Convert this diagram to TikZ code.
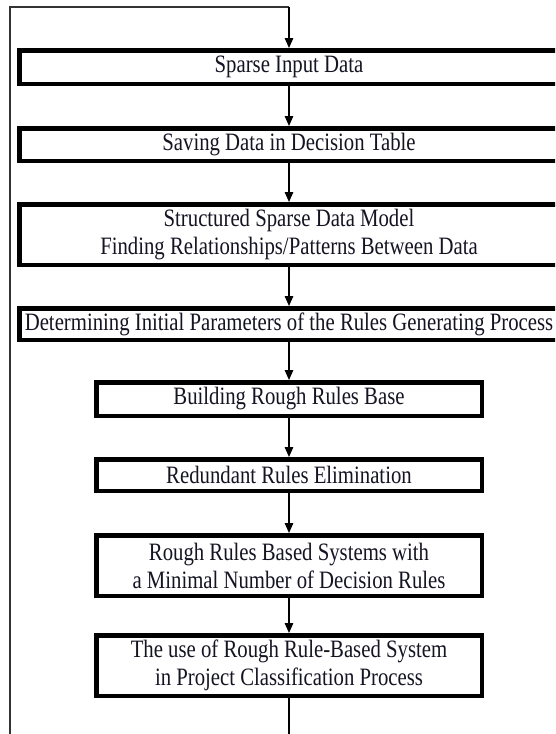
\documentclass[tikz,border=0pt]{standalone}
\usepackage{fontspec}
\setmainfont{Liberation Serif}
\newfontfamily\narrowserif[FakeStretch=0.83]{Liberation Serif}
\usetikzlibrary{arrows.meta}
\definecolor{txt}{RGB}{20,20,35}
\begin{document}
\begin{tikzpicture}[x=1pt,y=-1pt,
  stepbox/.style={draw=black,line width=4.5pt,fill=white,inner sep=0pt,
    align=center,text=txt,font=\narrowserif\fontsize{25pt}{28pt}\selectfont},
  flow/.style={line width=1.5pt,-{Triangle[length=10pt,width=8.5pt]}},
  back/.style={line width=1.1pt,black!80}]
\useasboundingbox (0,0) rectangle (555,734);
\clip (0,0) rectangle (555,734);
\node[stepbox,minimum width=539.5pt,minimum height=33.5pt] (b1) at (289,67) {Sparse Input Data};
\node[stepbox,minimum width=539.5pt,minimum height=32.5pt] (b2) at (289,144.5) {Saving Data in Decision Table};
\node[stepbox,minimum width=539.5pt,minimum height=60.5pt] (b3) at (289,234.5) {Structured Sparse Data Model\\Finding Relationships/Patterns Between Data};
\node[stepbox,minimum width=539.5pt,minimum height=31.5pt] (b4) at (289,324) {Determining Initial Parameters of the Rules Generating Process};
\node[stepbox,minimum width=385.5pt,minimum height=33.5pt] (b5) at (289,399) {Building Rough Rules Base};
\node[stepbox,minimum width=385.5pt,minimum height=31.5pt] (b6) at (289,475) {Redundant Rules Elimination};
\node[stepbox,minimum width=385.5pt,minimum height=60.5pt] (b7) at (289,565.5) {Rough Rules Based Systems with\\a Minimal Number of Decision Rules};
\node[stepbox,minimum width=385.5pt,minimum height=60.5pt] (b8) at (289,665.5) {The use of Rough Rule-Based System\\in Project Classification Process};
\coordinate (bot) at (289,740);
\coordinate (lb) at (10,740);
\coordinate (tl) at (10,7);
\coordinate (tr) at (289,7);
\draw[flow] (b1) -- (b2);
\draw[flow] (b2) -- (b3);
\draw[flow] (b3) -- (b4);
\draw[flow] (b4) -- (b5);
\draw[flow] (b5) -- (b6);
\draw[flow] (b6) -- (b7);
\draw[flow] (b7) -- (b8);
\draw[line width=1.5pt] (b8) -- (bot);
\draw[back] (lb) -- (tl) -- (tr);
\draw[flow] (tr) -- (b1);
\end{tikzpicture}
\end{document}
